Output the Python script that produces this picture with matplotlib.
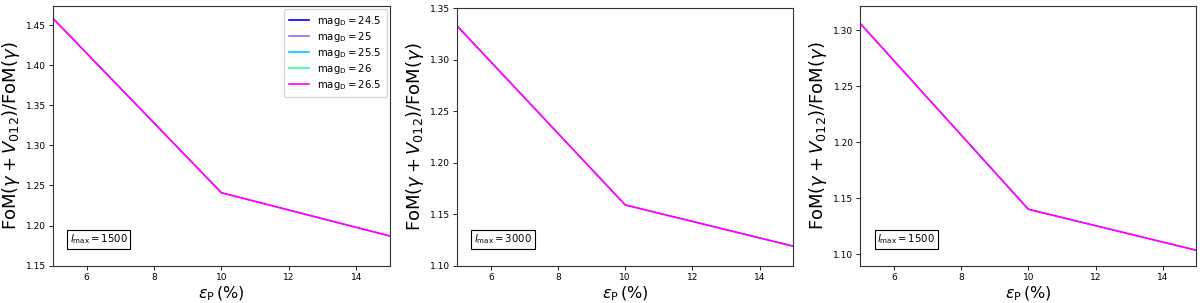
import matplotlib
matplotlib.use("Agg")
import matplotlib.pyplot as plt

eps = [5, 10, 15]
mags = ["24.5", "25", "25.5", "26", "26.5"]
colors = ["#0000ff", "#7f6fff", "#00c8ff", "#33ffa0", "#ff00ff"]

panel1 = [1.4585, 1.241, 1.187]
panel2 = [1.3327, 1.159, 1.119]
panel3 = [1.306, 1.1402, 1.1036]
panels = [panel1, panel2, panel3]
lmax = ["1500", "3000", "1500"]
ylims = [(1.15, 1.474), (1.10, 1.35), (1.0898, 1.322)]
yticks = [[1.15, 1.20, 1.25, 1.30, 1.35, 1.40, 1.45],
          [1.10, 1.15, 1.20, 1.25, 1.30, 1.35],
          [1.10, 1.15, 1.20, 1.25, 1.30]]

fig = plt.figure(figsize=(12, 3.03), dpi=100)
positions = [[0.044, 0.123, 0.281, 0.858],
             [0.381, 0.123, 0.280, 0.850],
             [0.717, 0.123, 0.280, 0.858]]

for i, vals in enumerate(panels):
    ax = fig.add_axes(positions[i])
    for m, c in zip(mags, colors):
        lw = 1.3 if c == "#ff00ff" else 0.5
        ax.plot(eps, vals, color=c, lw=lw, label=r"$\mathrm{mag_D}=%s$" % m)
    ax.set_xlim(5, 15)
    ax.set_ylim(*ylims[i])
    ax.set_xticks([6, 8, 10, 12, 14])
    ax.set_yticks(yticks[i])
    ax.set_yticklabels(["%.2f" % t for t in yticks[i]])
    ax.tick_params(labelsize=6.5, length=3, width=0.6, pad=2)
    for s in ax.spines.values():
        s.set_linewidth(0.8)
        s.set_color("#333333")
    ax.set_xlabel(r"$\varepsilon_{\rm P}\,(\%)$", fontsize=11.5, labelpad=2)
    ax.set_ylabel(r"FoM$(\gamma+V_{012})$/FoM$(\gamma)$", fontsize=13, labelpad=3)
    ax.text(0.05, 0.075, r"$l_{\max}=%s$" % lmax[i], transform=ax.transAxes,
            fontsize=7.3, ha="left", va="bottom",
            bbox=dict(boxstyle="square,pad=0.25", fc="white", ec="black", lw=0.8))
    if i == 0:
        leg = ax.legend(loc="upper right", fontsize=7.3, handlelength=2.0,
                        labelspacing=0.2, borderpad=0.5, borderaxespad=0.3,
                        handletextpad=0.8)
        for h in leg.get_lines():
            h.set_linewidth(1.2)

fig.savefig("out.png", dpi=100)
